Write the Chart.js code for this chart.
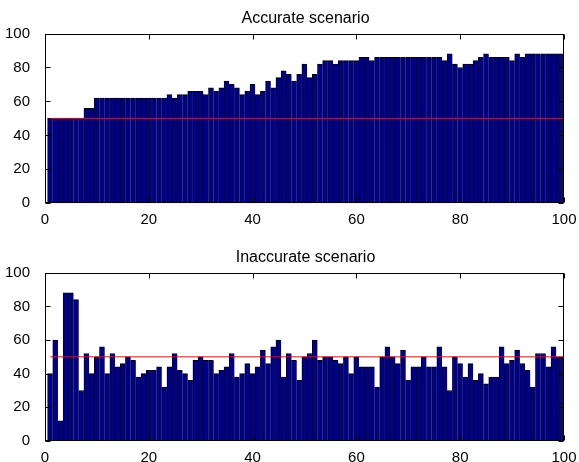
<!DOCTYPE html>
<html>
<head>
<meta charset="utf-8">
<script src="https://cdn.jsdelivr.net/npm/chart.js@4.4.0/dist/chart.umd.min.js"></script>
<style>
html,body{margin:0;padding:0;background:#fff;}
#wrap{position:relative;width:579px;height:462px;}
canvas{position:absolute;left:0;top:0;}
</style>
</head>
<body>
<div id="wrap">
<canvas id="c1" width="579" height="462"></canvas>
<canvas id="c2" width="579" height="462"></canvas>
</div>
<script>
// ---- data ----
const xIndex = Array.from({length: 100}, (_, i) => i + 1);
const accurateValues = [
  50,50,50,50,50,50,50,56,56,62,
  62,62,62,62,62,62,62,62,62,62,
  62,62,62,64,62,64,64,66,66,66,
  64,68,66,68,72,70,68,64,66,70,
  64,66,72,68,74,78,76,72,76,82,
  74,76,82,84,84,82,84,84,84,84,
  86,86,84,86,86,86,86,86,86,86,
  86,86,86,86,86,86,84,88,82,80,
  82,82,84,86,88,86,86,86,86,84,
  88,86,88,88,88,88,88,88,88,88
];
const inaccurateValues = [
  40,60,12,88,88,84,30,52,40,50,
  56,40,52,44,46,50,48,38,40,42,
  42,44,32,44,52,42,40,36,48,50,
  48,48,40,42,44,52,38,40,46,40,
  44,54,46,56,60,38,52,48,36,50,
  52,60,48,50,50,48,46,50,40,50,
  44,44,44,32,50,56,50,46,54,36,
  44,44,50,44,44,56,44,30,50,46,
  38,46,36,40,34,38,38,56,46,48,
  54,46,42,32,52,52,44,56,50,50
];
const thresholdX = [1, 100];
const thresholdY = [50, 50];
const xTickValues = [0, 20, 40, 60, 80, 100];
const yTickValues = [0, 20, 40, 60, 80, 100];
const titles = ['Accurate scenario', 'Inaccurate scenario'];

// ---- styling ----
const FONT = '"Liberation Sans", Arial, Helvetica, sans-serif';
const BAR_FILL = 'rgb(0,0,140)';

const framePlugin = {
  id: 'frame',
  afterDraw(chart, args, opts) {
    const {ctx, chartArea: a, scales: {x, y}} = chart;
    ctx.save();
    ctx.strokeStyle = '#000';
    ctx.lineWidth = 1;
    const L = Math.round(a.left) + 0.5, R = Math.round(a.right) - 0.5;
    const T = Math.round(a.top) + 0.5, B = Math.round(a.bottom) - 0.5;
    ctx.strokeRect(L, T, R - L, B - T);
    ctx.beginPath();
    xTickValues.forEach(v => {
      const px = Math.round(x.getPixelForValue(v)) + 0.5;
      ctx.moveTo(px, T); ctx.lineTo(px, T + 5);
      ctx.moveTo(px, B); ctx.lineTo(px, B - 5);
    });
    yTickValues.forEach(v => {
      const py = Math.round(y.getPixelForValue(v)) + 0.5;
      ctx.moveTo(L, py); ctx.lineTo(L + 5, py);
      ctx.moveTo(R, py); ctx.lineTo(R - 5, py);
    });
    ctx.stroke();
    ctx.fillStyle = '#000';
    ctx.font = '16px ' + FONT;
    ctx.textAlign = 'center';
    ctx.textBaseline = 'alphabetic';
    ctx.fillText(opts.text, (a.left + a.right) / 2 + 1, opts.baseline);
    ctx.restore();
  }
};

function makeChart(id, values, title, padTop, plotBottom, xAxisH, titleBaseline) {
  return new Chart(document.getElementById(id), {
    type: 'bar',
    data: {
      datasets: [
        {
          type: 'line',
          data: thresholdX.map((xv, i) => ({x: xv, y: thresholdY[i]})),
          borderColor: '#ff0000',
          borderWidth: 1,
          pointRadius: 0,
          fill: false,
          order: 0
        },
        {
          type: 'bar',
          data: values.map((v, i) => ({x: xIndex[i], y: v})),
          backgroundColor: BAR_FILL,
          borderColor: '#000',
          borderWidth: {left: 1, top: 1, right: 0, bottom: 0},
          barPercentage: 1,
          categoryPercentage: 1,
          order: 1
        }
      ]
    },
    options: {
      responsive: false,
      animation: false,
      devicePixelRatio: 1,
      layout: {padding: {left: 0, right: 15, top: padTop, bottom: 462 - plotBottom - xAxisH}},
      plugins: {
        legend: {display: false},
        tooltip: {enabled: false},
        title: {display: false},
        frame: {text: title, baseline: titleBaseline}
      },
      scales: {
        x: {
          type: 'linear',
          min: 0, max: 100,
          offset: false,
          grid: {display: false, offset: false},
          border: {display: false},
          ticks: {stepSize: 20, padding: 0, color: '#000', font: {size: 15, family: FONT}, maxRotation: 0},
          afterBuildTicks: s => { s.ticks = xTickValues.map(v => ({value: v})); },
          afterFit: s => { s.height = xAxisH; }
        },
        y: {
          min: 0, max: 100,
          grid: {display: false},
          border: {display: false},
          ticks: {stepSize: 20, padding: 7, color: '#000', font: {size: 15, family: FONT}},
          afterBuildTicks: s => { s.ticks = yTickValues.map(v => ({value: v})); },
          afterFit: s => { s.width = 45; }
        }
      }
    },
    plugins: [framePlugin]
  });
}

makeChart('c1', accurateValues, titles[0], 33.5, 203.3, 30, 23.3);
makeChart('c2', inaccurateValues, titles[1], 272.7, 441, 21, 261.7);
</script>
</body>
</html>
